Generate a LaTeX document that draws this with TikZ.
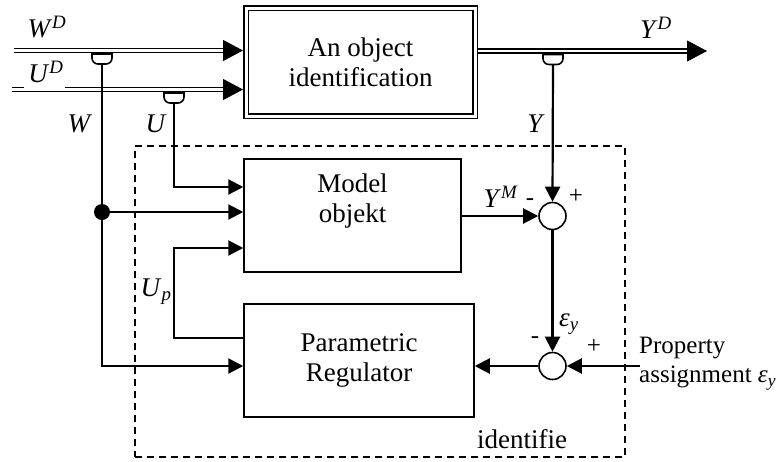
\documentclass[tikz,border=0pt]{standalone}
\usepackage{fontspec}
\setmainfont{Liberation Serif}
\usetikzlibrary{arrows.meta,positioning,calc}

\newcommand{\sigup}[2]{\textit{#1}\textsuperscript{\textit{#2}}}
\newcommand{\sigdn}[2]{\textit{#1}\textsubscript{\textit{#2}}}
\newcommand{\epsy}{\sigdn{ε}{y}}

\begin{document}
\begin{tikzpicture}[x=1pt,y=-1pt,
    font=\fontsize{27}{30}\selectfont,
    block/.style={draw, line width=1.5pt, inner sep=0pt, align=center},
    summer/.style={draw, circle, line width=1.6pt, minimum size=27pt, inner sep=0pt},
    sigline/.style={line width=2.2pt},
    flow/.style={sigline, -{Triangle[length=15pt,width=15pt]}},
    bus/.style={draw, line width=1.5pt, double distance=2.6pt},
    bustip/.style={line width=1pt, -{Triangle[length=20pt,width=21pt]}},
    tap/.style={draw, line width=1.6pt, fill=white},
    sign/.style={font=\fontsize{25}{25}\selectfont, inner sep=0pt}]
  \useasboundingbox (0,0) rectangle (784,461);

  % blocks
  \node[block, double, line width=1.5pt, double distance=3pt, outer sep=3pt,
        minimum width=229pt, minimum height=108pt] (obj) at (360.5,62) {An object\\identification};
  \node[block, minimum width=217pt, minimum height=113pt] (model) at (352.5,215.5) {};
  \node (modeltxt) at ([yshift=14pt]model.center) [align=center] {Model\\objekt};
  \node[block, minimum width=230pt, minimum height=113pt] (reg) at (359,360.5) {Parametric\\Regulator};
  \node[summer] (sum1) at (552.5,216) {};
  \node[summer] (sum2) at (552.5,366) {};
  \node[draw, line width=2pt, dash pattern=on 7pt off 5pt, minimum width=490pt, minimum height=311pt] (ident) at (380,301.5) {};
  \node (identtxt) at (522,439) {identifie};

  % buses
  \coordinate (wdin) at (14,50.5);
  \coordinate (udin) at (12,89.5);
  \coordinate (ydout) at (707,51);
  \draw[bus] (wdin) -- ([xshift=-15pt]wdin -| obj.west);
  \draw[bustip] ([xshift=-18pt]wdin -| obj.west) -- (wdin -| obj.west);
  \draw[bus] (udin) -- ([xshift=-15pt]udin -| obj.west);
  \draw[bustip] ([xshift=-18pt]udin -| obj.west) -- (udin -| obj.west);
  \fill[white] (24,84) rectangle (65,88.4);
  \draw[bus] (obj.east |- ydout) -- ([xshift=-15pt]ydout);
  \draw[bustip] ([xshift=-18pt]ydout) -- (ydout);

  % taps
  \foreach \tx/\ty/\nm in {102/54/wtap,174/93/utap,553/54.5/ytap} {
    \draw[tap] (\tx-10,\ty) -- (\tx-10,\ty+4) to[out=-90,in=180] (\tx-4,\ty+10)
      -- (\tx+4,\ty+10) to[out=0,in=-90] (\tx+10,\ty+4) -- (\tx+10,\ty) -- cycle;
    \coordinate (\nm) at (\tx,\ty+10);
  }

  % signals
  \node[circle, fill, inner sep=0pt, minimum size=16pt] (wdot) at (102,212) {};
  \coordinate (upbend) at (174,248);
  \draw[flow] (utap) |- ([yshift=28.5pt]model.west);
  \draw[flow] (wdot) -- (wdot -| model.west);
  \draw[flow] (wtap) |- (sum2 -| reg.west);
  \draw[flow] ([yshift=22.5pt]reg.west) -| (upbend) -- (upbend -| model.west);
  \draw[flow] (ytap) -- (sum1.north);
  \draw[flow] (model.east |- sum1) -- (sum1.west);
  \draw[flow] (sum1.south) -- (sum2.north);
  \draw[flow] (sum2.west) -- (sum2 -| reg.east);
  \coordinate (prop) at (640,366);
  \draw[flow] (prop) -- (sum2.east);
  \node[anchor=north west, align=left, inner sep=0pt, font=\fontsize{25}{29}\selectfont] (proptxt) at (639,337) {Property\\assignment \epsy};

  % labels
  \node (lwd) at (47,27) {\sigup{W}{D}};
  \node (lud) at (46,72) {\sigup{U}{D}};
  \node (lw) at (80,124) {\textit{W}};
  \node (lu) at (156,124) {\textit{U}};
  \node (lyd) at (656,28) {\sigup{Y}{D}};
  \node (ly) at (536,124) {\textit{Y}};
  \node (lym) at (501,197) {\sigup{Y}{M}};
  \node (lup) at (156,292) {\sigdn{U}{p}};
  \node (leps) at (569,324) {\epsy};
  \node[sign] (m1) at (530,202) {-};
  \node[sign] (p1) at (576,196) {+};
  \node[sign] (m2) at (535,340) {-};
  \node[sign] (p2) at (594,346) {+};
\end{tikzpicture}
\end{document}
